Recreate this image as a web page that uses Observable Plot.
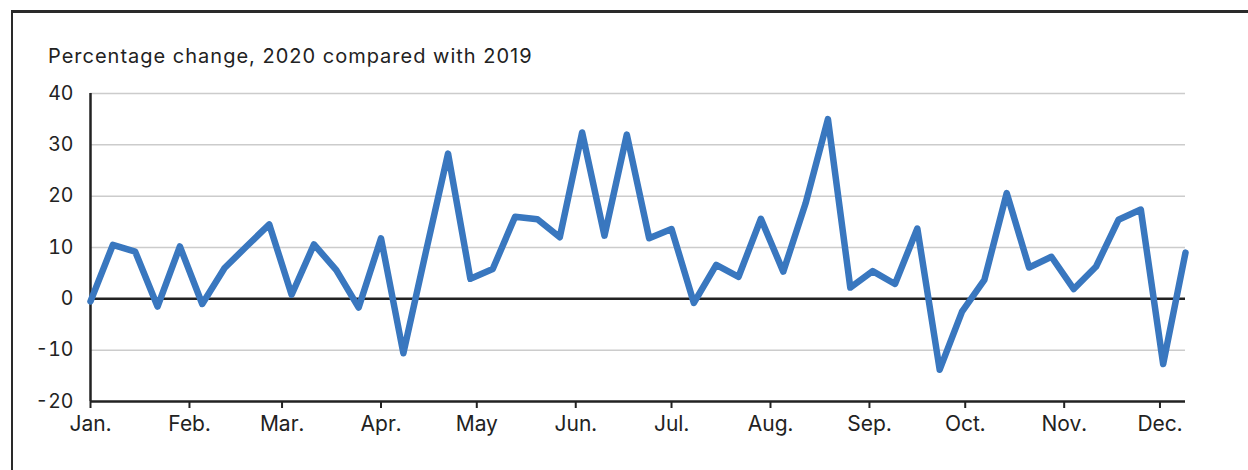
<!DOCTYPE html>
<html>
<head>
<meta charset="utf-8">
<script src="https://cdn.jsdelivr.net/npm/d3@7"></script>
<script src="https://cdn.jsdelivr.net/npm/@observablehq/plot@0.6"></script>
<style>
  html, body { margin: 0; padding: 0; background: #fff; }
  #page { position: relative; width: 1248px; height: 470px; overflow: hidden; font-family: Inter, "Noto Sans", sans-serif; color: #222; }
  #frame { position: absolute; left: 11px; top: 10px; right: -10px; bottom: -10px; border-top: 3px solid #2a2a2a; border-left: 2.5px solid #2a2a2a; }
  #title { position: absolute; left: 48px; top: 46px; font-size: 20px; line-height: 20px; letter-spacing: 1px; white-space: nowrap; }
  #chart { position: absolute; left: 0; top: 80px; }
</style>
</head>
<body>
<div id="page">
  <div id="frame"></div>
  <div id="title">Percentage change, 2020 compared with 2019</div>
  <div id="chart"></div>
</div>
<script>
// Weekly percentage change, 2020 vs 2019, one value per week starting 1 Jan 2020
const firstWeek = "2020-01-01";
const values = [
  -0.5, 10.5, 9.2, -1.5, 10.2, -1.0, 6.0, 10.3, 14.5, 0.8,
  10.6, 5.6, -1.7, 11.8, -10.6, 9.0, 28.3, 3.9, 5.8, 16.0,
  15.5, 12.0, 32.4, 12.3, 32.0, 11.8, 13.6, -0.8, 6.6, 4.3,
  15.6, 5.3, 18.6, 35.0, 2.2, 5.4, 2.9, 13.7, -13.8, -2.5,
  3.7, 20.6, 6.1, 8.2, 1.9, 6.3, 15.4, 17.4, -12.7, 9.0
];

// Axis ticks
const monthStarts = ["2020-01-01","2020-02-01","2020-03-01","2020-04-01","2020-05-01","2020-06-01",
                     "2020-07-01","2020-08-01","2020-09-01","2020-10-01","2020-11-01","2020-12-01"];
const monthLabels = ["Jan.","Feb.","Mar.","Apr.","May","Jun.","Jul.","Aug.","Sep.","Oct.","Nov.","Dec."];
const gridValues = [40, 30, 20, 10, -10];
const yTicks = [40, 30, 20, 10, 0, -10, -20];

const start = new Date(firstWeek + "T00:00Z");
const data = values.map((v, i) => ({ date: d3.utcDay.offset(start, 7 * i), value: v }));
const monthDates = monthStarts.map(s => new Date(s + "T00:00Z"));
const labelOf = new Map(monthDates.map((d, i) => [+d, monthLabels[i]]));
const lastWeek = data[data.length - 1].date;

const ink = "#222";

const chart = Plot.plot({
  width: 1248,
  height: 390,
  marginLeft: 90,
  marginRight: 63,
  marginTop: 13,
  marginBottom: 69,
  style: { fontFamily: "Inter, 'Noto Sans', sans-serif", color: ink, background: "transparent", overflow: "visible" },
  x: { type: "utc", domain: [start, lastWeek] },
  y: { domain: [-20, 40] },
  marks: [
    Plot.ruleY(gridValues, { stroke: "#cccccc", strokeWidth: 1.5 }),
    Plot.ruleY([0], { stroke: ink, strokeWidth: 2.5 }),
    Plot.ruleY([-20], { stroke: ink, strokeWidth: 2.5 }),
    Plot.ruleX([start], { y1: -20, y2: 40, stroke: ink, strokeWidth: 2.5 }),
    Plot.axisY(yTicks, {
      tickSize: 0, tickPadding: 17, fontSize: 19.5, fill: ink, label: null,
      tickFormat: d => String(d)
    }),
    Plot.axisX(monthDates, {
      tickSize: 7, tickPadding: 8, stroke: ink, strokeWidth: 2, fontSize: 21, fill: ink,
      tickFormat: d => labelOf.get(+d), label: null
    }),
    Plot.line(data, {
      x: "date", y: "value", stroke: "#3977bf", strokeWidth: 6.5,
      strokeLinejoin: "round", strokeLinecap: "round"
    })
  ]
});

document.getElementById("chart").appendChild(chart);
</script>
</body>
</html>
